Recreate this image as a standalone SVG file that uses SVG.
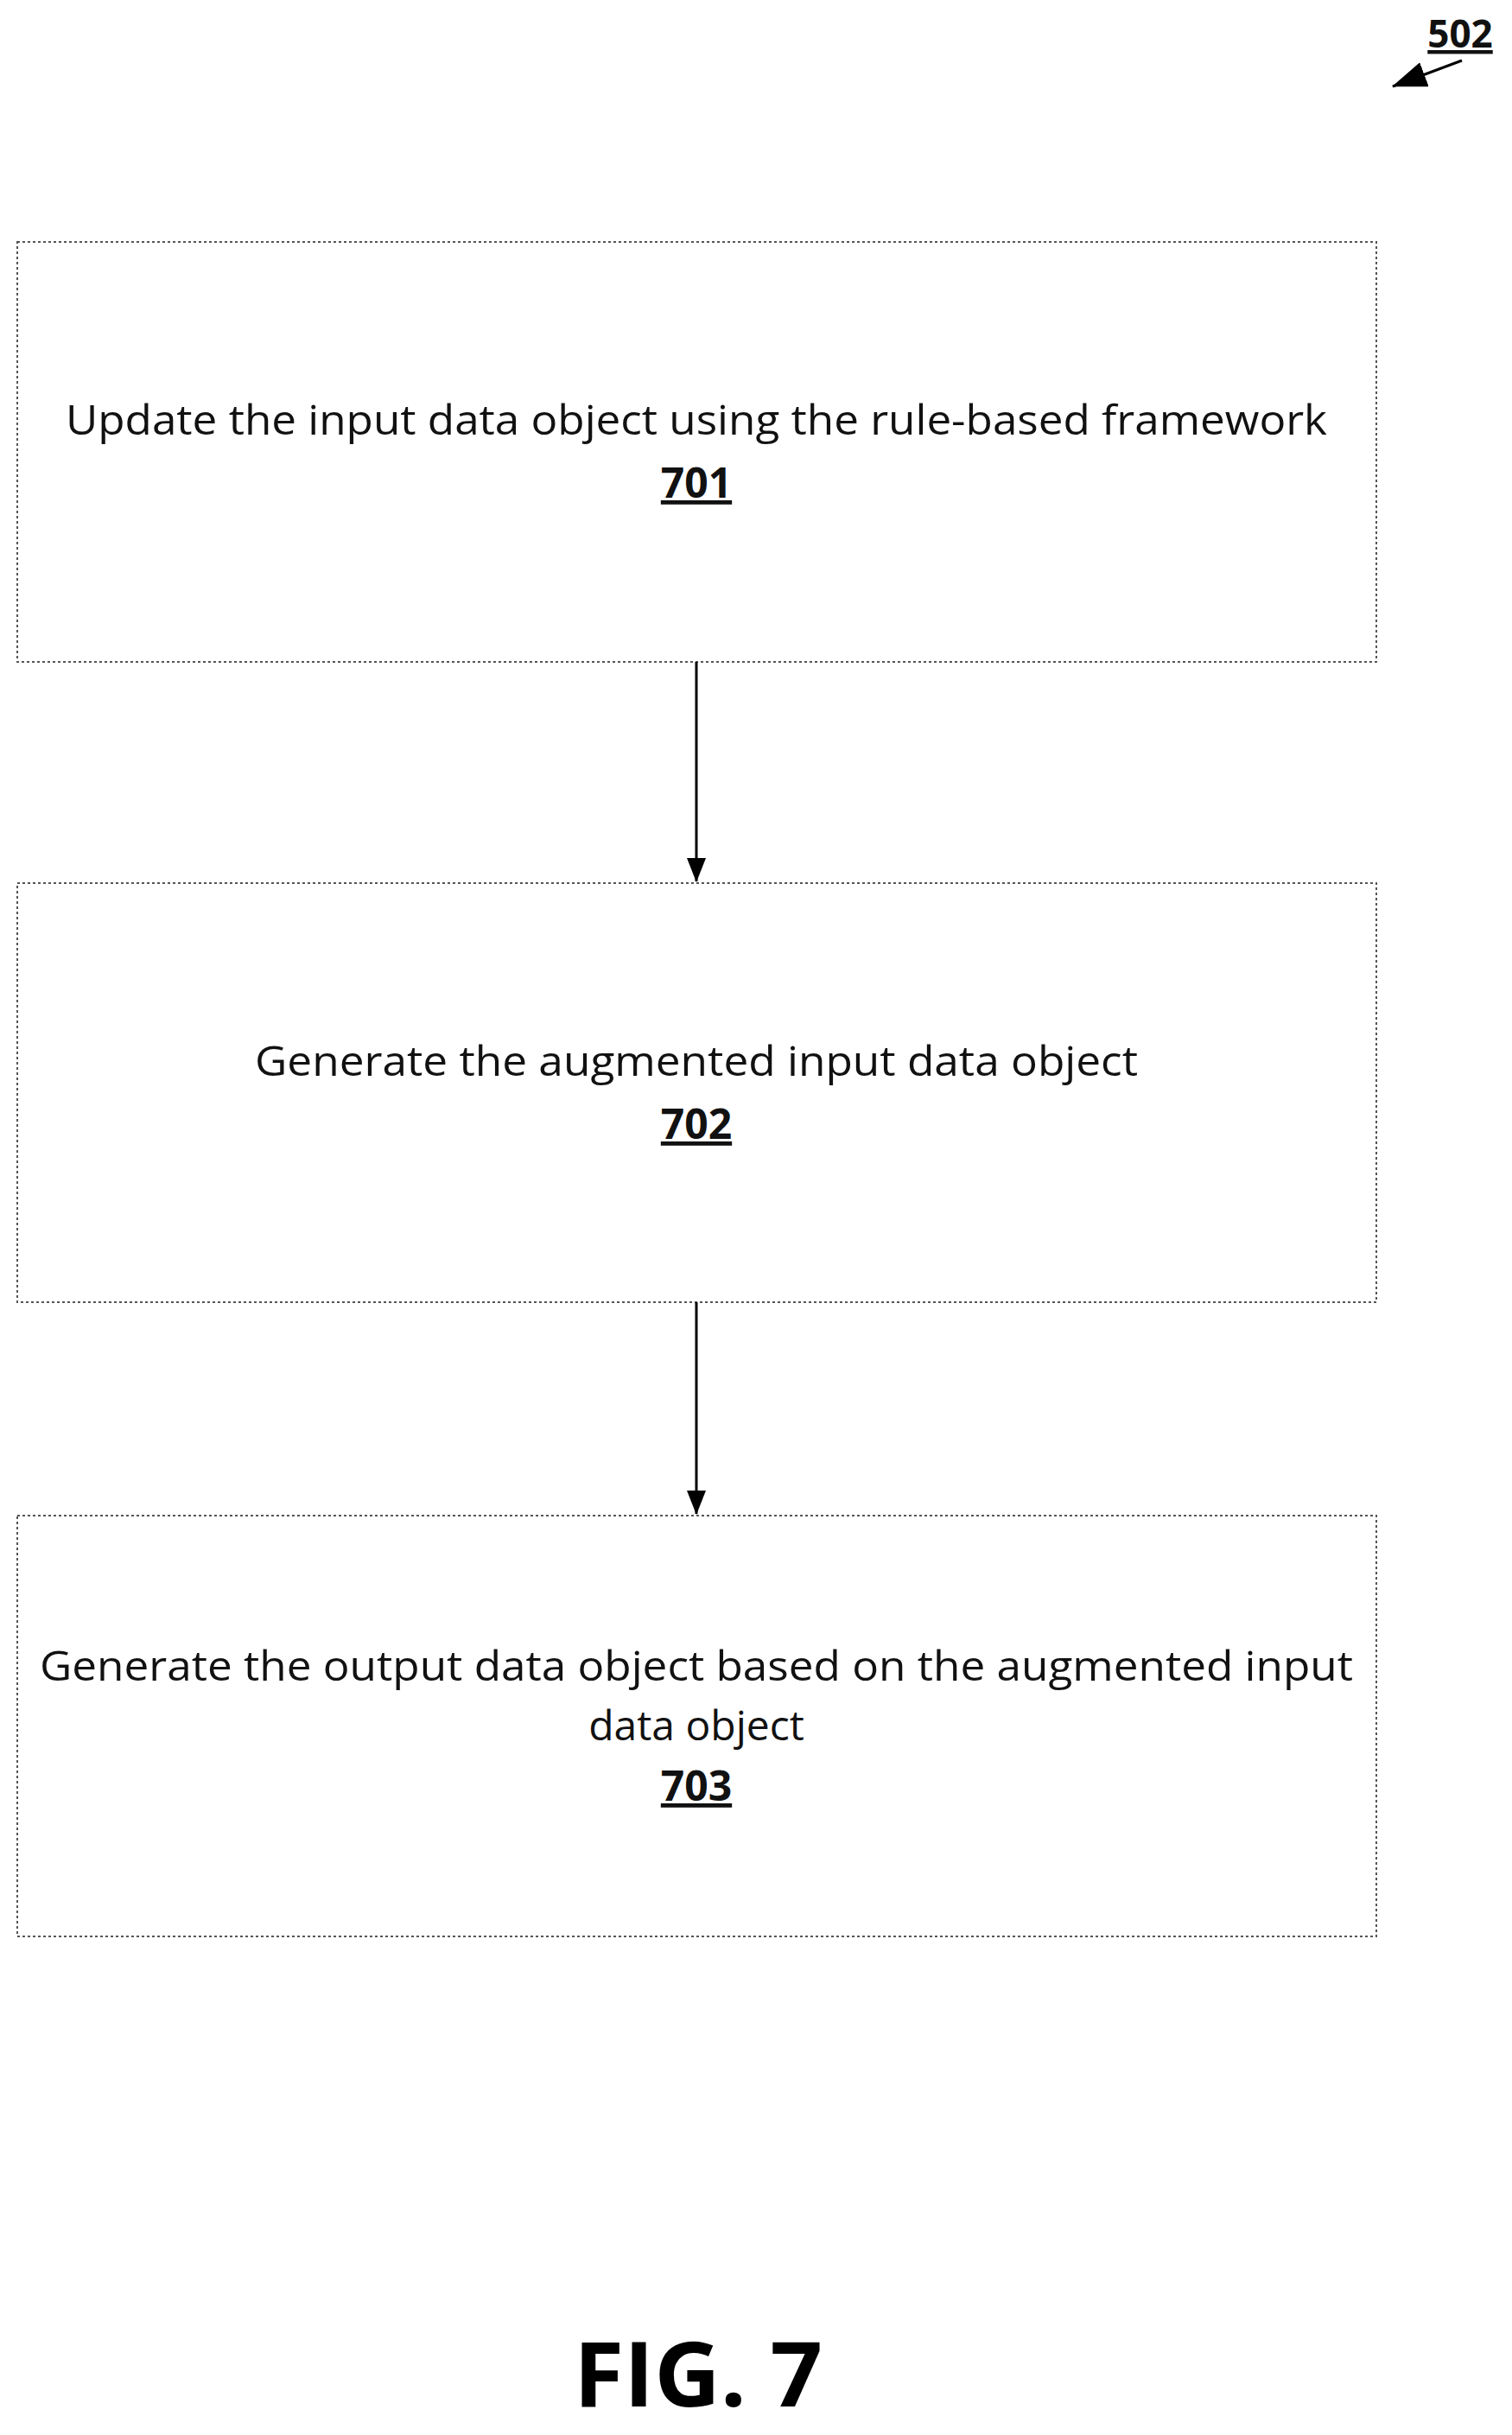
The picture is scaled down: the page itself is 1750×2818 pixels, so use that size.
<svg xmlns="http://www.w3.org/2000/svg" width="1750" height="2818" viewBox="0 0 1750 2818">
<style>
.box{fill:#fff;stroke:#555;stroke-width:2;stroke-dasharray:3 3}
.t{font-family:"Open Sans","Liberation Sans",sans-serif;font-size:48px;fill:#111;text-anchor:middle}
.n{font-family:"Open Sans","Liberation Sans",sans-serif;font-size:48px;font-weight:bold;fill:#111;text-anchor:middle;text-decoration:underline}
.c{stroke:#000;stroke-width:3;fill:none}
</style>
<defs>
<marker id="b" markerWidth="28" markerHeight="22" refX="27" refY="11" orient="auto" markerUnits="userSpaceOnUse"><path d="M0,0 L28,11 L0,22 Z" fill="#000"/></marker>
<marker id="c" markerWidth="40" markerHeight="30" refX="39" refY="15" orient="auto" markerUnits="userSpaceOnUse"><path d="M0,0 L40,15 L0,30 Z" fill="#000"/></marker></defs>
<rect width="1750" height="2818" fill="#fff"/>
<g id="ref502"><text x="1690" y="55" class="n" style="font-size:44px">502</text><line x1="1692" y1="70" x2="1612" y2="100" class="c" marker-end="url(#c)"/></g>
<g id="n701"><rect x="20" y="280" width="1573" height="486" class="box"/><text x="806" y="503" class="t" textLength="1460" lengthAdjust="spacingAndGlyphs">Update the input data object using the rule-based framework</text><text x="806" y="576" class="n">701</text></g>
<g id="n702"><rect x="20" y="1022" width="1573" height="485" class="box"/><text x="806" y="1245" class="t" textLength="1022" lengthAdjust="spacingAndGlyphs">Generate the augmented input data object</text><text x="806" y="1318" class="n">702</text></g>
<g id="n703"><rect x="20" y="1754" width="1573" height="487" class="box"/><text x="806" y="1945" class="t" textLength="1520" lengthAdjust="spacingAndGlyphs">Generate the output data object based on the augmented input</text><text x="806" y="2014" class="t">data object</text><text x="806" y="2084" class="n">703</text></g>
<g id="connectors"><line x1="806" y1="766" x2="806" y2="1020" class="c" marker-end="url(#b)"/><line x1="806" y1="1507" x2="806" y2="1752" class="c" marker-end="url(#b)"/></g>
<text x="808" y="2785" style="font-family:'Open Sans','Liberation Sans',sans-serif;font-size:104px;font-weight:bold;text-anchor:middle" textLength="288" lengthAdjust="spacingAndGlyphs">FIG. 7</text>
</svg>
